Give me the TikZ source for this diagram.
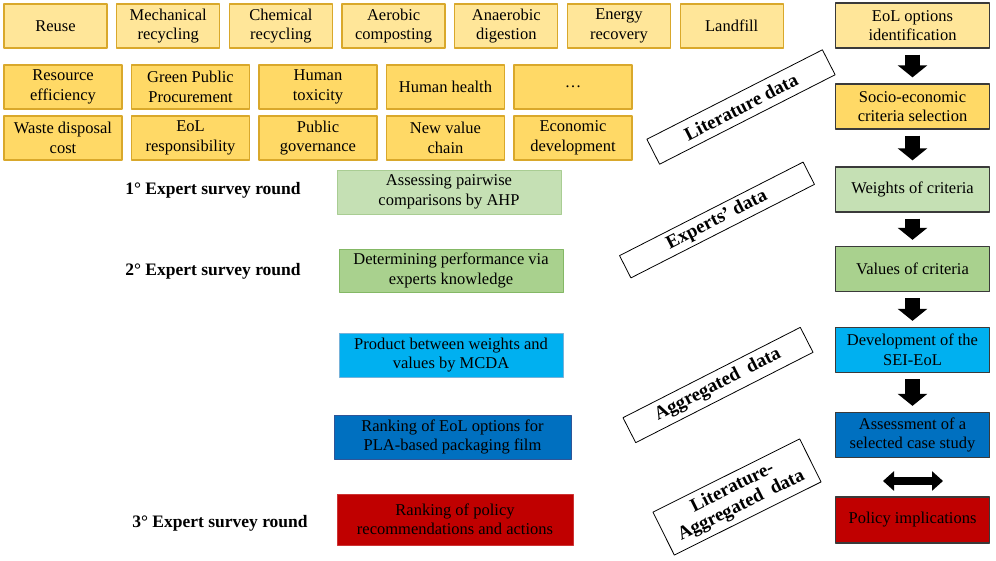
\documentclass[tikz,border=0pt]{standalone}
\usepackage{fontspec}
\setmainfont{Liberation Serif}
\usetikzlibrary{arrows.meta}

\definecolor{yellowA}{HTML}{FFE699}
\definecolor{yellowB}{HTML}{FFD966}
\definecolor{goldline}{HTML}{D9A82B}
\definecolor{greenA}{HTML}{C5E0B4}
\definecolor{greenB}{HTML}{A9D18E}
\definecolor{greenline}{HTML}{84B865}
\definecolor{blueA}{HTML}{00B0F0}
\definecolor{blueB}{HTML}{0070C0}
\definecolor{blueline}{HTML}{2F5597}
\definecolor{redA}{HTML}{C00000}
\definecolor{darkline}{HTML}{3A3A3A}

\begin{document}
\begin{tikzpicture}[x=1pt, y=-1pt, font=\fontsize{16.5}{19.5}\selectfont, line join=round]
		\tikzset{basebox/.style={draw, line width=1.3pt, align=center, inner sep=1pt, minimum height=44pt},
			optbox/.style={basebox, draw=goldline, fill=yellowA, minimum width=103pt},
			critbox/.style={basebox, draw=goldline, fill=yellowB, minimum width=118pt},
			stepbox/.style={basebox, draw=darkline, minimum width=154pt, minimum height=45pt},
			methbox/.style={basebox, line width=1pt},
			databox/.style={draw, fill=white, line width=0.8pt, rotate=27, align=center, inner sep=1pt, font=\fontsize{19}{20}\selectfont\bfseries},
			surveylabel/.style={font=\fontsize{17.5}{20}\selectfont\bfseries},
			blockarrow/.style={line width=15pt, -{Triangle[length=12pt,width=29pt]}, shorten <=6pt, shorten >=6pt}}
		\useasboundingbox (0,0) rectangle (996,560);
		% EoL options
		\foreach \t [count=\i from 0] in {Reuse, Mechanical\\recycling, Chemical\\recycling, Aerobic\\composting, Anaerobic\\digestion, Energy\\recovery, Landfill}
			\node[optbox] (opt\i) at ({55.5+112.7*\i},26) {\t};
		% criteria
		\foreach \t [count=\i from 0] in {Resource\\efficiency, Green Public\\Procurement, Human\\toxicity, Human health, \ldots}
			\node[critbox] (critA\i) at ({63+127.5*\i},87) {\t};
		\foreach \t [count=\i from 0] in {Waste disposal\\cost, EoL\\responsibility, Public\\governance, New value\\chain, Economic\\development}
			\node[critbox] (critB\i) at ({63+127.5*\i},138) {\t};
		% survey rounds and methods
		\node[surveylabel] (round1) at (213,190) {1° Expert survey round};
		\node[surveylabel] (round2) at (213,271) {2° Expert survey round};
		\node[surveylabel] (round3) at (220,523) {3° Expert survey round};
		\node[methbox, draw=greenline!70, fill=greenA, minimum width=224pt] (ahp) at (449,192) {Assessing pairwise\\comparisons by AHP};
		\node[methbox, draw=greenline, fill=greenB, minimum width=224pt, minimum height=43pt] (perf) at (451,270.5) {Determining performance via\\experts knowledge};
		\node[methbox, draw=blueA!45!blueline!60, fill=blueA, minimum width=224pt] (mcda) at (451,355) {Product between weights and\\values by MCDA};
		\node[methbox, draw=blueline, fill=blueB, minimum width=237pt] (rankeol) at (452.5,437) {Ranking of EoL options for\\PLA-based packaging film};
		\node[methbox, draw=redA!80!white, fill=redA, minimum width=236pt, minimum height=51pt] (rankpol) at (455,519.5) {Ranking of policy\\recommendations and actions};
		% steps
		\node[stepbox, fill=yellowA] (eol) at (912.5,25.5) {EoL options\\identification};
		\node[stepbox, fill=yellowB] (socio) at (912.5,106.5) {Socio-economic\\criteria selection};
		\node[stepbox, fill=greenA] (weights) at (912.5,189.5) {Weights of criteria};
		\node[stepbox, fill=greenB] (values) at (912.5,269) {Values of criteria};
		\node[stepbox, fill=blueA] (sei) at (912.5,350) {Development of the\\SEI-EoL};
		\node[stepbox, fill=blueB] (assess) at (912.5,435) {Assessment of a\\selected case study};
		\node[stepbox, fill=redA, minimum height=46pt] (policy) at (912.5,520) {Policy implications};
		\foreach \a/\b in {eol/socio, socio/weights, weights/values, values/sei, sei/assess}
			\draw[blockarrow] (\a) -- (\b);
		\coordinate (dl) at (883,481);
		\coordinate (dr) at (943,481);
		\draw[line width=8pt, {Triangle[length=11pt,width=19pt]}-{Triangle[length=11pt,width=19pt]}] (dl) -- (dr);
		% data sources
		\node[databox, minimum width=197pt, minimum height=28pt] (litdata) at (741,107) {Literature data};
		\node[databox, minimum width=206pt, minimum height=25pt] (expdata) at (717,220) {Experts’ data};
		\node[databox, minimum width=199pt, minimum height=28pt] (aggdata) at (718,385) {Aggregated\ \ data};
		\node[databox, minimum width=164pt, minimum height=48pt, rotate=-0.5] (litaggdata) at (737,497) {Literature-\\Aggregated\ \ data};
\end{tikzpicture}
\end{document}
